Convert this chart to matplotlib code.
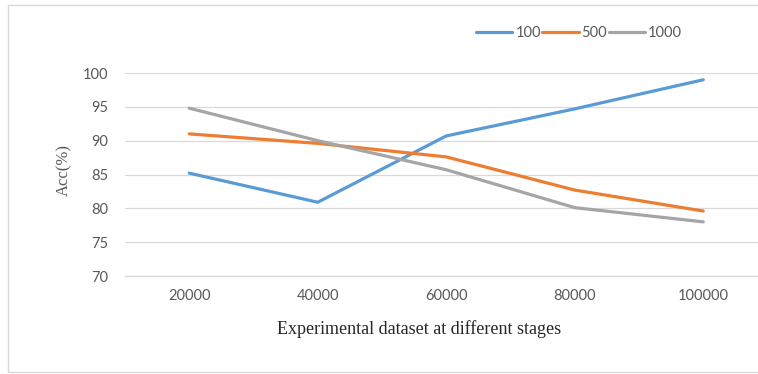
import matplotlib
matplotlib.use("Agg")
import matplotlib.pyplot as plt
from matplotlib.patches import Rectangle

# data
stages = ["20000", "40000", "60000", "80000", "100000"]
acc_100 = [85.2, 80.9, 90.7, 94.7, 99.0]
acc_500 = [91.0, 89.6, 87.6, 82.7, 79.6]
acc_1000 = [94.8, 90.0, 85.7, 80.1, 78.0]
series_names = ["100", "500", "1000"]
yticks = [70, 75, 80, 85, 90, 95, 100]

colors = ["#5B9BD5", "#ED7D31", "#A5A5A5"]
W, H = 758, 374

fig = plt.figure(figsize=(W / 100, H / 100), dpi=100)
fig.patch.set_facecolor("white")

# outer chart border (right side is cropped in the reference)
fig.patches.append(Rectangle((8 / W, 2 / H), 1.0, (367) / H, transform=fig.transFigure,
                             fill=False, edgecolor="#D9D9D9", linewidth=1.0))

# axes placed in pixel terms, extends past right edge like the original
left, right = 125, 125 + 642.5
bottom, top = H - 276, H - 73
ax = fig.add_axes([left / W, bottom / H, (right - left) / W, (top - bottom) / H])

x = list(range(len(stages)))
for vals, name, c in zip([acc_100, acc_500, acc_1000], series_names, colors):
    ax.plot(x, vals, color=c, linewidth=2.3, label=name, solid_capstyle="round")

ax.set_xlim(-0.5, len(stages) - 0.5)
ax.set_ylim(70, 100)
ax.set_yticks(yticks)
ax.set_xticks(x)
ax.set_xticklabels(stages)
ax.grid(axis="y", color="#D9D9D9", linewidth=0.9)
ax.set_axisbelow(True)
for s in ["top", "right", "left"]:
    ax.spines[s].set_visible(False)
ax.spines["bottom"].set_color("#D9D9D9")
ax.spines["bottom"].set_linewidth(0.9)
ax.tick_params(length=0, labelsize=10.5, labelcolor="#595959")
for lab in ax.get_xticklabels() + ax.get_yticklabels():
    lab.set_family("Lato")
ax.tick_params(axis="y", pad=12)
ax.tick_params(axis="x", pad=9)

fig.text(419 / W, 1 - 329 / H, "Experimental dataset at different stages",
         ha="center", va="center", family="Liberation Serif", fontsize=13, color="#262626")
fig.text(64 / W, 1 - 170 / H, "Acc(%)", ha="center", va="center", rotation=90,
         family="Liberation Serif", fontsize=12, color="#595959")

leg = fig.legend(loc="center", bbox_to_anchor=(579 / W, 1 - 33 / H), ncol=3, frameon=False,
                 handlelength=2.5, handletextpad=0.2, columnspacing=0.1,
                 prop={"family": "Lato", "size": 10.5})
for t in leg.get_texts():
    t.set_color("#595959")

fig.savefig("out.png", dpi=100)
